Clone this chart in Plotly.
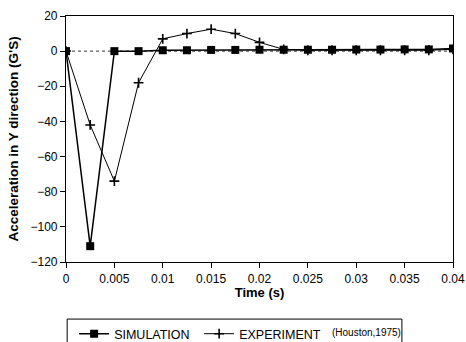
import plotly.graph_objects as go

time_s = [0, 0.0025, 0.005, 0.0075, 0.01, 0.0125, 0.015, 0.0175, 0.02, 0.0225,
          0.025, 0.0275, 0.03, 0.0325, 0.035, 0.0375, 0.04]
simulation = [0, -111, 0, 0, 0.5, 0.5, 0.7, 0.7, 0.8, 0.8,
              0.8, 0.8, 0.9, 0.9, 1.0, 1.0, 1.5]
experiment = [0, -42, -74, -18, 7, 10, 12.5, 10, 5, 1,
              0.5, 0.5, 0.5, 0.5, 0.5, 0.5, 1.0]

x_ticks = [0, 0.005, 0.01, 0.015, 0.02, 0.025, 0.03, 0.035, 0.04]
x_tick_labels = ["0", "0.005", "0.01", "0.015", "0.02", "0.025", "0.03", "0.035", "0.04"]
y_ticks = [-120, -100, -80, -60, -40, -20, 0, 20]

font_family = "Liberation Sans, Arial, sans-serif"

fig = go.Figure()
fig.add_trace(go.Scatter(
    x=time_s, y=simulation, name="SIMULATION", mode="lines+markers",
    line=dict(color="black", width=1.5),
    marker=dict(symbol="square", size=8, color="black"),
))
fig.add_trace(go.Scatter(
    x=time_s, y=experiment, name="EXPERIMENT", mode="lines+markers",
    line=dict(color="black", width=1),
    marker=dict(symbol="cross-thin", size=7, color="black",
                line=dict(color="black", width=1.6)),
))

fig.add_shape(type="line", xref="paper", x0=0, x1=1, yref="y", y0=0, y1=0,
              line=dict(color="black", width=0.8, dash="dot"), layer="below")

# legend frame (extends to include the source note)
fig.add_shape(type="rect", xref="paper", yref="paper",
              x0=0.003, x1=0.868, y0=-0.232, y1=-0.36,
              line=dict(color="black", width=1), fillcolor="rgba(0,0,0,0)")

fig.add_annotation(text="(Houston,1975)", xref="paper", yref="paper",
                   x=0.682, y=-0.285, xanchor="left", yanchor="middle",
                   showarrow=False, font=dict(family=font_family, size=10, color="black"))

fig.update_layout(
    width=466, height=342,
    margin=dict(l=66, r=13, t=16, b=80, autoexpand=False),
    paper_bgcolor="white", plot_bgcolor="white",
    font=dict(family=font_family, size=12, color="black"),
    showlegend=True,
    legend=dict(orientation="h", x=0.021, y=-0.232, xanchor="left", yanchor="top",
                borderwidth=0, bgcolor="rgba(0,0,0,0)",
                font=dict(family=font_family, size=12.5, color="black"),
                itemwidth=30, tracegroupgap=0,
                entrywidth=80, entrywidthmode="pixels"),
)
fig.update_xaxes(
    range=[0, 0.04], tickvals=x_ticks, ticktext=x_tick_labels,
    showline=True, linecolor="black", linewidth=1.2, mirror=True,
    ticks="outside", ticklen=5, tickcolor="black",
    showgrid=False, zeroline=False, automargin=False,
    title=dict(text="<b>Time (s)</b>", standoff=2, font=dict(size=13)),
    tickfont=dict(size=12),
)
fig.update_yaxes(
    range=[-120, 20], tickvals=y_ticks,
    showline=True, linecolor="black", linewidth=1.2, mirror=True,
    ticks="outside", ticklen=5, tickcolor="black",
    showgrid=False, zeroline=False, automargin=False,
    title=dict(text="<b>Acceleration in Y direction (G'S)</b>", standoff=8, font=dict(size=13.5)),
    tickfont=dict(size=12),
)

fig.write_html("out.html", config={"displayModeBar": False},
               post_script="document.body.style.margin='0px';document.body.style.overflow='hidden';")
